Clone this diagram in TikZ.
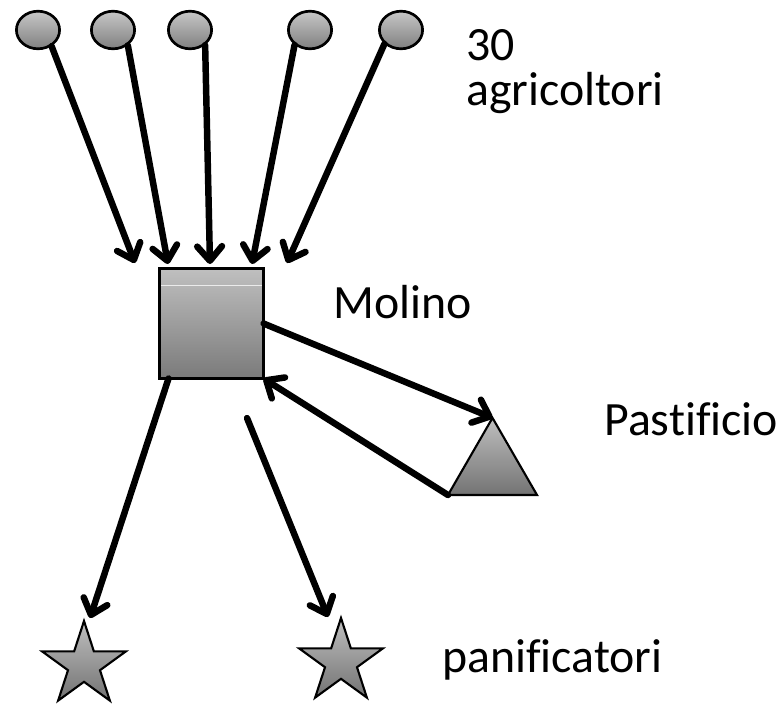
\documentclass[tikz,border=0pt]{standalone}
\usepackage{fontspec}
\setmainfont{Carlito}[Ligatures=NoCommon]
\usetikzlibrary{arrows.meta,shapes.geometric}

\begin{document}
\begin{tikzpicture}[x=0.025cm,y=-0.025cm,
  farmer/.style={draw=black,ellipse,line width=1.9pt,minimum width=1.08cm,minimum height=0.94cm,inner sep=0,top color=black!22,bottom color=black!50},
  baker/.style={draw=black,star,star points=5,star point ratio=2.618,line width=1.5pt,minimum size=2.2cm,inner sep=0,outer sep=0,top color=black!25,bottom color=black!55},
  flow/.style={line width=4.6pt,line cap=round,-{Straight Barb[length=0.36cm,width=0.62cm,round]}},
  lab/.style={anchor=base west,inner sep=0,font=\fontsize{34}{40}\selectfont}]
\useasboundingbox (0,0) rectangle (780,704);
\node[farmer] (e1) at (38,30)  {};
\node[farmer] (e2) at (113,30) {};
\node[farmer] (e3) at (190,30) {};
\node[farmer] (e4) at (310,30) {};
\node[farmer] (e5) at (401,30) {};
\node[draw=black,line width=2.4pt,minimum width=2.6cm,minimum height=2.75cm,inner sep=0,outer sep=0,top color=black!25,bottom color=black!52] (mol) at (211.5,323.5) {};
\draw[black!8,line width=0.8pt] ([yshift=-0.42cm,xshift=0.04cm]mol.north west) -- ([yshift=-0.42cm,xshift=-0.04cm]mol.north east);
\node[draw=black,regular polygon,regular polygon sides=3,line width=1.5pt,minimum size=2.57cm,inner sep=0,outer sep=0,top color=black!25,bottom color=black!55] (pas) at (492.5,469.3) {};
\node[baker] (s1) at (84,665) {};
\node[baker] (s2) at (341,662) {};
% arrow ends
\coordinate (t1) at (135,263);
\coordinate (t2) at (168,264);
\coordinate (t3) at (210,264);
\coordinate (t4) at (252,264);
\coordinate (t5) at (287,263);
\coordinate (b1) at (90,618);
\coordinate (f1) at (247,418);
\coordinate (f2) at (328,617);
\draw [flow] (e1.-50) -- (t1);
\draw [flow] (e2.-46) -- (t2);
\draw [flow] (e3.-45) -- (t3);
\draw [flow] (e4.-136) -- (t4);
\draw [flow] (e5.-140) -- (t5);
\draw [flow] (mol.east) -- (pas.corner 1);
\draw [flow] (pas.corner 2) -- (mol.south east);
\draw [flow] (mol.-128) -- (b1);
\draw [flow] (f1) -- (f2);
% labels
\node[lab] (n30) at (466,60) {30};
\node[lab] (agr) at (466,105) {agricoltori};
\node[lab] (molt) at (333,318) {Molino};
\node[lab] (past) at (604,435) {Pastificio};
\node[lab] (pan) at (442,672) {panificatori};
\end{tikzpicture}
\end{document}
